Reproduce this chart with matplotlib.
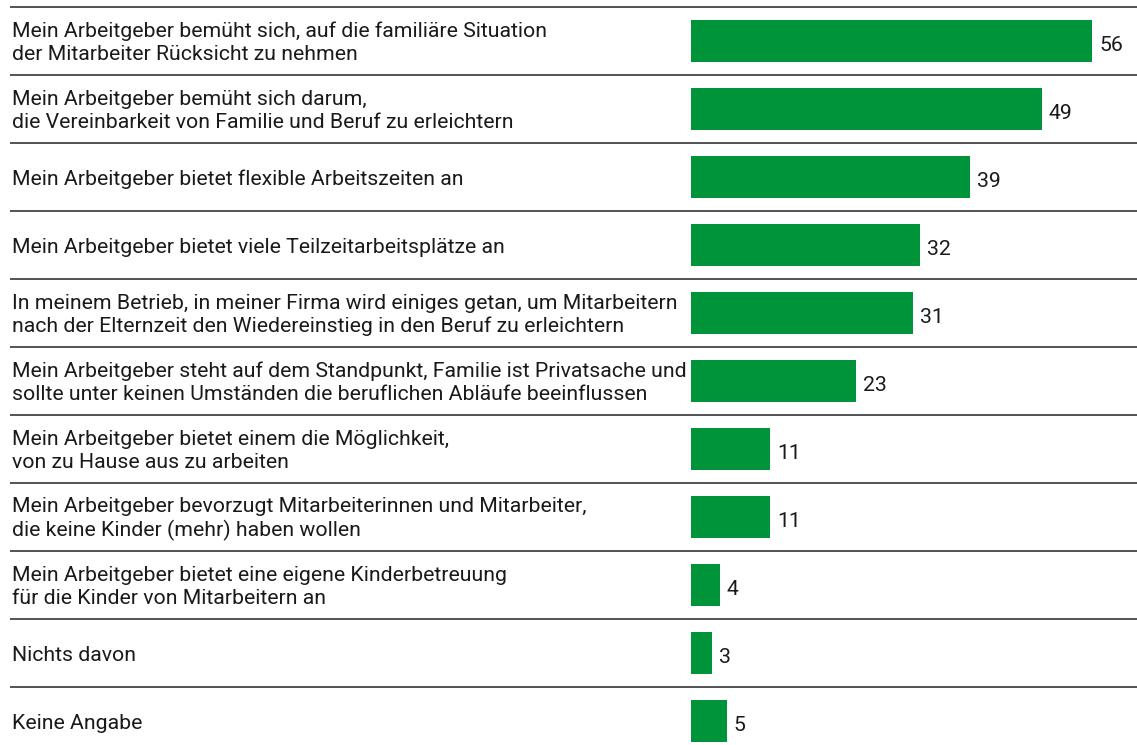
import numpy as np
import matplotlib.pyplot as plt

plt.rcParams['font.family'] = ['Roboto', 'DejaVu Sans']

labels = [
    "Mein Arbeitgeber bemüht sich, auf die familiäre Situation\nder Mitarbeiter Rücksicht zu nehmen",
    "Mein Arbeitgeber bemüht sich darum,\ndie Vereinbarkeit von Familie und Beruf zu erleichtern",
    "Mein Arbeitgeber bietet flexible Arbeitszeiten an",
    "Mein Arbeitgeber bietet viele Teilzeitarbeitsplätze an",
    "In meinem Betrieb, in meiner Firma wird einiges getan, um Mitarbeitern\nnach der Elternzeit den Wiedereinstieg in den Beruf zu erleichtern",
    "Mein Arbeitgeber steht auf dem Standpunkt, Familie ist Privatsache und\nsollte unter keinen Umständen die beruflichen Abläufe beeinflussen",
    "Mein Arbeitgeber bietet einem die Möglichkeit,\nvon zu Hause aus zu arbeiten",
    "Mein Arbeitgeber bevorzugt Mitarbeiterinnen und Mitarbeiter,\ndie keine Kinder (mehr) haben wollen",
    "Mein Arbeitgeber bietet eine eigene Kinderbetreuung\nfür die Kinder von Mitarbeitern an",
    "Nichts davon",
    "Keine Angabe",
]
values = [56, 49, 39, 32, 31, 23, 11, 11, 4, 3, 5]

green = '#00943a'
W, H = 1137, 745
px_per_unit = 7.16   # pixels per percentage point
x0_px = 691          # where the bars start
row_px = 68
first_center_px = 41

fig = plt.figure(figsize=(W / 100, H / 100), dpi=100)
ax = fig.add_axes([0, 0, 1, 1])
ax.set_xlim(-x0_px / px_per_unit, (W - x0_px) / px_per_unit)
ax.set_ylim((H - first_center_px) / row_px, -first_center_px / row_px)
ax.axis('off')

y = np.arange(len(values))
ax.barh(y, values, height=42 / row_px, color=green, left=0)

left_text = (12 - x0_px) / px_per_unit
line_left = (10 - x0_px) / px_per_unit
ax.hlines(y - 0.5, line_left, (W - x0_px) / px_per_unit, color='#444444', lw=1.3)

for i, (lab, v) in enumerate(zip(labels, values)):
    ax.text(left_text, i + 0.03, lab, ha='left', va='center', fontsize=15.3,
            color='#1a1a1a', linespacing=1.26)
    ax.text(v + 7 / px_per_unit, i + 0.06, str(v), ha='left', va='center',
            fontsize=15.3, color='#1a1a1a')

fig.savefig('out.png', dpi=100)
